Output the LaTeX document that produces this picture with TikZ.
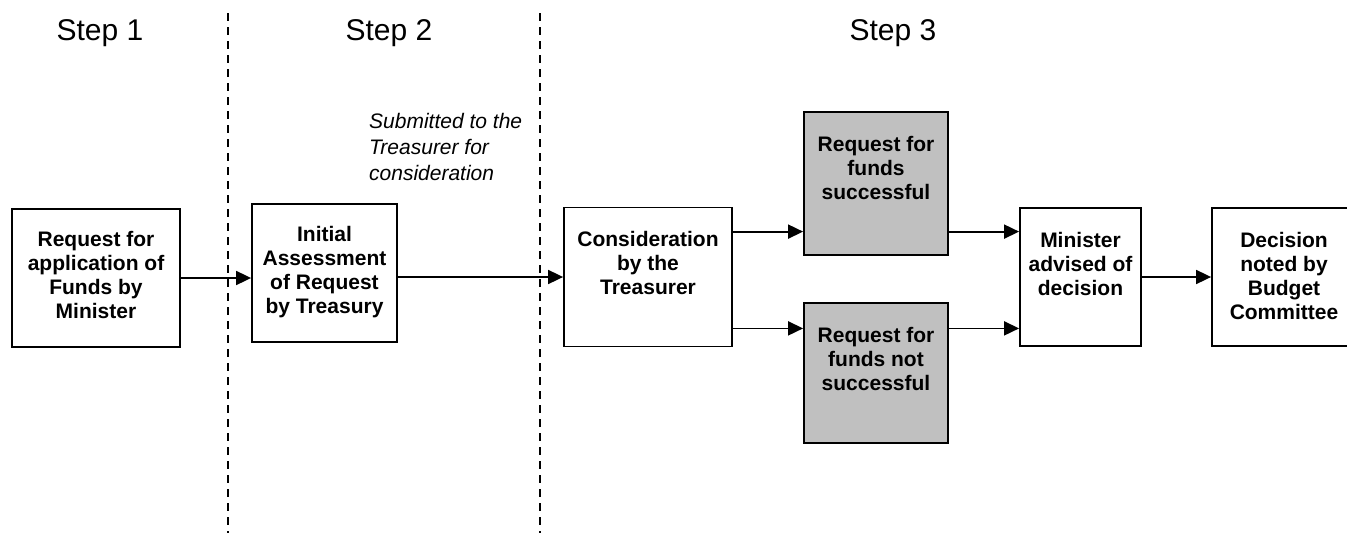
\documentclass[tikz,border=0pt]{standalone}
\usepackage{fontspec}
\setmainfont{Liberation Sans}
\usetikzlibrary{arrows.meta,positioning}
\definecolor{boxgray}{RGB}{192,192,192}
\tikzset{
  box/.style={draw, line width=1.8pt, inner sep=0pt, minimum height=138pt},
  graybox/.style={box, fill=boxgray, minimum width=144pt},
  btxt/.style={font=\fontsize{21}{24}\selectfont\bfseries, align=center, inner sep=0pt},
  steplab/.style={font=\fontsize{30}{36}\selectfont, anchor=base, inner sep=0pt},
  note/.style={font=\fontsize{21}{26}\selectfont\itshape, align=left, anchor=north west, inner sep=0pt},
  arr/.style={-{Triangle[length=15pt,width=14pt]}, line width=1.8pt},
  divider/.style={line width=1.8pt, dash pattern=on 7.5pt off 6.5pt},
}

\begin{document}
\begin{tikzpicture}[x=1pt,y=-1pt]
  \clip (0,0) rectangle (1347,533);
  \draw[divider] (228,13) -- (228,533);
  \draw[divider] (540,13) -- (540,533);
  \node[steplab] (st1) at (100,40) {Step 1};
  \node[steplab] (st2) at (389,40) {Step 2};
  \node[steplab] (st3) at (893,40) {Step 3};
  \node[note] (subm) at (369,113) {Submitted to the\\Treasurer for\\consideration};

  \node[box, minimum width=168pt] (req) at (96,278) {};
  \node[btxt, below=23pt of req.north] (reqt) {Request for\\application of\\Funds by\\Minister};
  \node[box, minimum width=145pt] (ass) at (324.5,273) {};
  \node[btxt, below=23pt of ass.north] (asst) {Initial\\Assessment\\of Request\\by Treasury};
  \node[box, minimum width=168pt, minimum height=139pt] (cons) at (648,277) {};
  \node[btxt, below=24pt of cons.north] (const) {Consideration\\by the\\Treasurer};
  \node[graybox, minimum height=143pt] (ok) at (876,183.5) {};
  \node[btxt, below=25pt of ok.north] (okt) {Request for\\funds\\successful};
  \node[graybox, minimum height=140pt] (nok) at (876,373) {};
  \node[btxt, below=25pt of nok.north] (nokt) {Request for\\funds not\\successful};
  \node[box, minimum width=121pt] (mad) at (1080.5,277) {};
  \node[btxt, below=25pt of mad.north] (madt) {Minister\\advised of\\decision};
  \node[box, minimum width=144pt] (dec) at (1284,277) {};
  \node[btxt, below=25pt of dec.north] (dect) {Decision\\noted by\\Budget\\Committee};

  \draw[arr] (req.east) -- (req.east -| ass.west);
  \draw[arr] (ass.east |- cons.west) -- (cons.west);
  \draw[arr] ([yshift=-25pt]cons.north east) coordinate (up) -- (up -| ok.west);
  \draw[arr] ([yshift=19pt]cons.south east) coordinate (dn) -- (dn -| nok.west);
  \draw[arr] (up -| ok.east) -- (up -| mad.west);
  \draw[arr] (dn -| nok.east) -- (dn -| mad.west);
  \draw[arr] (mad.east) -- (dec.west);
\end{tikzpicture}
\end{document}
